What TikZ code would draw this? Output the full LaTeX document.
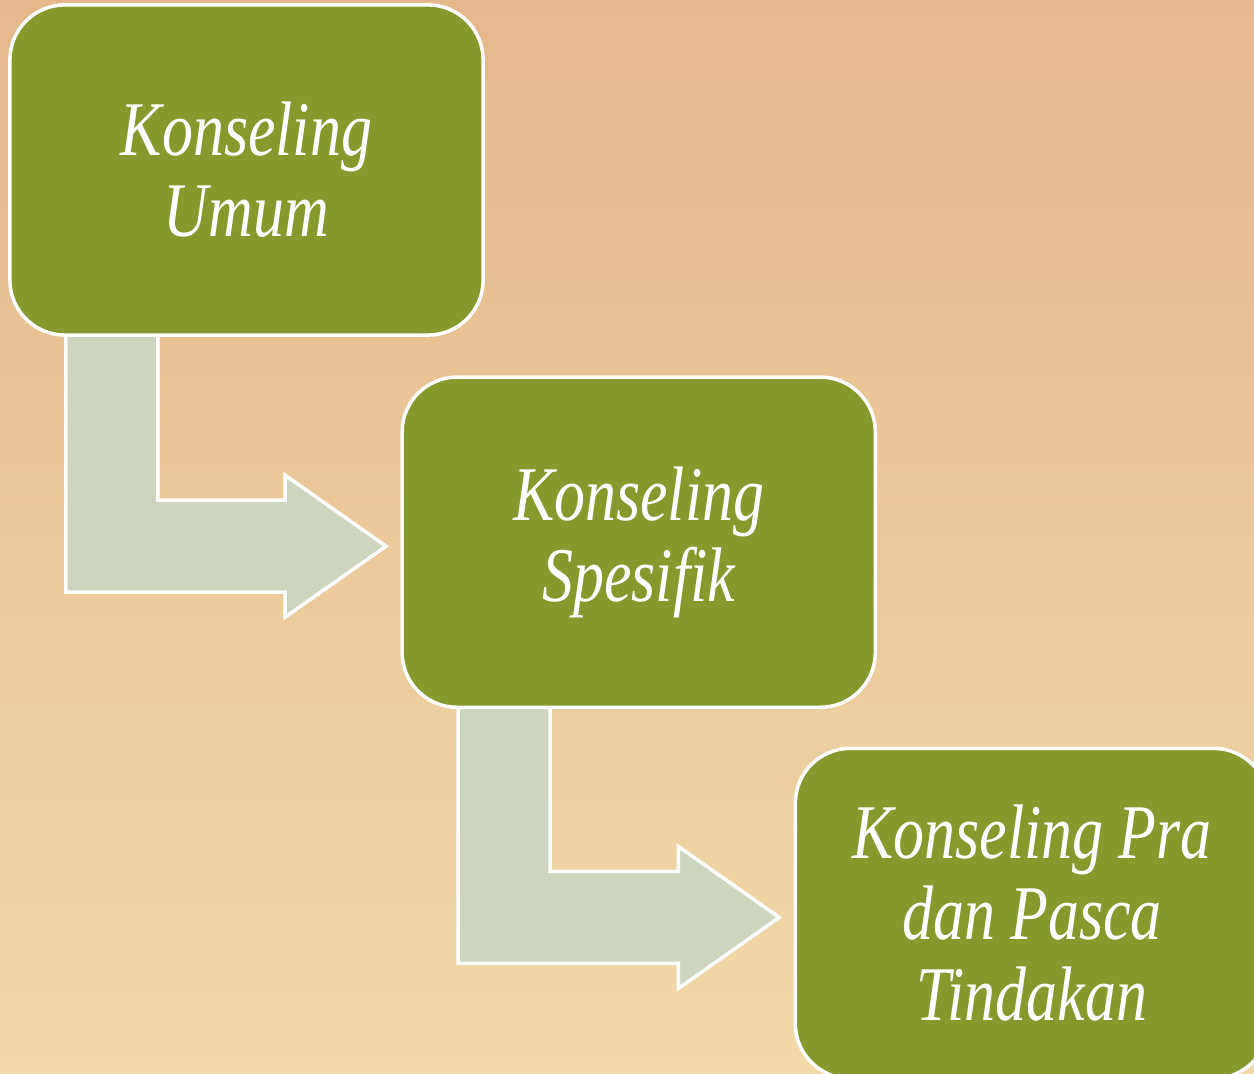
\documentclass[tikz,border=0pt]{standalone}
\usepackage{fontspec}
\setmainfont{Liberation Serif}[FakeStretch=0.8]
\usetikzlibrary{positioning, calc}
\definecolor{boxgreen}{RGB}{133,153,44}
\definecolor{arrowgray}{RGB}{205,213,190}
\definecolor{bgtop}{RGB}{229,184,139}
\definecolor{bgbottom}{RGB}{241,217,168}
\pgfdeclarelayer{bg}
\pgfdeclarelayer{arrows}
\pgfsetlayers{bg,arrows,main}
\tikzset{
  stepnode/.style={draw=white, line width=1pt, fill=boxgreen, rounded corners=0.55cm,
    minimum width=4.73cm, minimum height=3.3cm, outer sep=0pt, text=white, align=center,
    font=\fontsize{22}{23}\selectfont\itshape},
  bentarrow/.style={draw=white, line width=1pt, fill=arrowgray}
}

\begin{document}
\begin{tikzpicture}[x=0.01cm, y=-0.01cm]
    \clip (0,0) rectangle (1254,1074);
    \begin{pgfonlayer}{bg}
    \shade[top color=bgtop, bottom color=bgbottom] (0,0) rectangle (1254,1074);
    \end{pgfonlayer}
    \node[stepnode] (umum) at (246.5,170) {Konseling\\Umum};
    \node[stepnode, below right=0.42cm and -0.81cm of umum] (spesifik) {Konseling\\Spesifik};
    \node[stepnode, below right=0.41cm and -0.80cm of spesifik] (tindakan) {Konseling Pra\\dan Pasca\\Tindakan};
    \begin{pgfonlayer}{arrows}
    \foreach \a/\b in {umum/spesifik, spesifik/tindakan} {
        \coordinate (tip) at ($(\b.west)+(-16,4)$);
        \draw[bentarrow] ($(\a.south west)+(56,-30)$) |- ($(tip)+(-101,46)$)
            -- ($(tip)+(-101,71)$) -- (tip) -- ($(tip)+(-101,-71)$)
            -- ($(tip)+(-101,-46)$) -| ($(\a.south west)+(148,-30)$) -- cycle;
    }
    \end{pgfonlayer}
\end{tikzpicture}
\end{document}
